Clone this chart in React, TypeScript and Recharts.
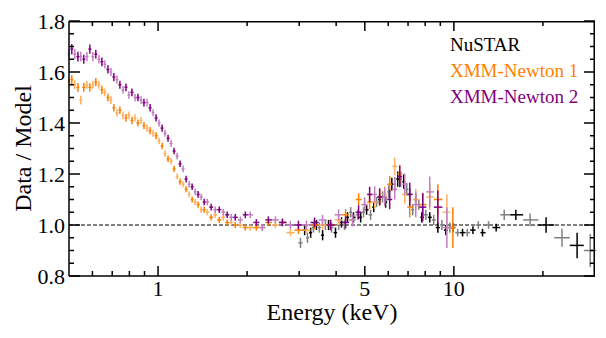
import React from 'react';
import { ScatterChart, Scatter, XAxis, YAxis, ErrorBar, ReferenceLine, CartesianGrid, Legend } from 'recharts';

// [energy keV, data/model ratio, 1-sigma error on ratio]
type Row = [number, number, number];

const nustar: Row[] = [
  [3.03, 0.93, 0.02], [3.13, 0.98, 0.02], [3.2, 0.95, 0.02], [3.28, 0.97, 0.02], [3.35, 0.99, 0.02],
  [3.43, 1.0, 0.02], [3.51, 0.99, 0.02], [3.6, 0.96, 0.02], [3.68, 1.0, 0.02], [3.77, 1.0, 0.02],
  [3.86, 0.99, 0.02], [3.98, 0.97, 0.02], [4.08, 1.0, 0.02], [4.17, 1.01, 0.02], [4.27, 1.0, 0.02],
  [4.37, 1.03, 0.02], [4.48, 1.05, 0.02], [4.58, 1.03, 0.02], [4.73, 1.04, 0.02], [4.84, 1.03, 0.02],
  [4.95, 1.05, 0.02], [5.07, 1.06, 0.02], [5.23, 1.04, 0.02], [5.36, 1.07, 0.02], [5.48, 1.09, 0.02],
  [5.61, 1.1, 0.02], [5.74, 1.11, 0.022], [5.88, 1.09, 0.022], [6.02, 1.13, 0.025], [6.17, 1.16, 0.025],
  [6.31, 1.16, 0.028], [6.46, 1.18, 0.03], [6.61, 1.18, 0.03], [6.77, 1.17, 0.028], [6.93, 1.14, 0.025],
  [7.09, 1.12, 0.025], [7.26, 1.06, 0.022], [7.43, 1.1, 0.022], [7.61, 1.08, 0.02], [7.79, 1.03, 0.02],
  [8.04, 1.04, 0.02], [8.29, 1.03, 0.02], [8.55, 1.02, 0.02], [8.83, 0.99, 0.02], [9.11, 1.0, 0.02],
  [9.4, 0.98, 0.02], [9.69, 0.99, 0.02], [9.92, 0.99, 0.018], [10.3, 0.97, 0.015], [10.7, 0.97, 0.015],
  [11.1, 0.97, 0.015], [11.6, 0.98, 0.015], [12.1, 1.0, 0.015], [12.5, 0.97, 0.015], [13.1, 1.0, 0.015],
  [13.9, 0.99, 0.015], [14.8, 1.04, 0.02], [16.2, 1.04, 0.02], [18.1, 1.02, 0.025], [20.5, 1.0, 0.03],
  [23.2, 0.95, 0.035], [26.1, 0.92, 0.05], [28.9, 0.9, 0.065],
];

const xmm1: Row[] = [
  [0.5, 1.56, 0.018], [0.511, 1.57, 0.018], [0.523, 1.55, 0.017], [0.536, 1.54, 0.017], [0.548, 1.49, 0.017],
  [0.561, 1.54, 0.017], [0.575, 1.55, 0.016], [0.588, 1.54, 0.016], [0.602, 1.55, 0.016], [0.616, 1.56, 0.016],
  [0.631, 1.55, 0.016], [0.646, 1.53, 0.016], [0.661, 1.52, 0.015], [0.677, 1.5, 0.015], [0.693, 1.49, 0.015],
  [0.709, 1.46, 0.015], [0.726, 1.44, 0.015], [0.743, 1.45, 0.015], [0.761, 1.43, 0.015], [0.779, 1.42, 0.015],
  [0.797, 1.43, 0.015], [0.816, 1.41, 0.015], [0.836, 1.42, 0.014], [0.855, 1.4, 0.014], [0.876, 1.41, 0.014],
  [0.896, 1.39, 0.014], [0.918, 1.38, 0.014], [0.94, 1.37, 0.014], [0.962, 1.36, 0.014], [0.985, 1.35, 0.014],
  [1.008, 1.33, 0.013], [1.032, 1.31, 0.013], [1.056, 1.28, 0.013], [1.081, 1.26, 0.013], [1.107, 1.25, 0.013],
  [1.133, 1.22, 0.012], [1.16, 1.19, 0.012], [1.187, 1.17, 0.012], [1.215, 1.16, 0.012], [1.244, 1.14, 0.012],
  [1.274, 1.12, 0.012], [1.304, 1.1, 0.012], [1.335, 1.09, 0.012], [1.366, 1.08, 0.012], [1.399, 1.06, 0.012],
  [1.432, 1.06, 0.012], [1.466, 1.05, 0.012], [1.512, 1.03, 0.012], [1.56, 1.04, 0.012], [1.61, 1.02, 0.012],
  [1.661, 1.03, 0.012], [1.713, 1.01, 0.012], [1.768, 1.01, 0.012], [1.824, 1.0, 0.012], [1.897, 1.0, 0.012],
  [1.972, 0.99, 0.012], [2.05, 0.99, 0.012], [2.149, 0.99, 0.012], [2.252, 0.99, 0.012], [2.36, 1.01, 0.013],
  [2.492, 1.0, 0.013], [2.633, 1.01, 0.014], [2.802, 0.97, 0.014], [2.983, 0.98, 0.015], [3.175, 0.98, 0.016],
  [3.38, 1.0, 0.017], [3.597, 1.0, 0.018], [3.83, 1.0, 0.019], [4.076, 1.02, 0.02], [4.305, 1.04, 0.022],
  [4.546, 1.02, 0.022], [4.764, 1.1, 0.024], [4.992, 1.08, 0.026], [5.191, 1.09, 0.027], [5.398, 1.09, 0.028],
  [5.613, 1.11, 0.03], [5.837, 1.12, 0.032], [6.069, 1.16, 0.032], [6.31, 1.23, 0.034], [6.561, 1.2, 0.036],
  [6.823, 1.12, 0.036], [7.093, 1.07, 0.04], [7.433, 1.1, 0.042], [7.85, 1.08, 0.046], [8.29, 1.11, 0.05],
  [8.827, 1.1, 0.06], [9.469, 1.05, 0.07], [9.92, 0.99, 0.08],
];

const xmm2: Row[] = [
  [0.5, 1.67, 0.02], [0.511, 1.69, 0.02], [0.523, 1.67, 0.019], [0.536, 1.66, 0.019], [0.548, 1.66, 0.019],
  [0.561, 1.65, 0.018], [0.575, 1.66, 0.018], [0.588, 1.69, 0.018], [0.602, 1.66, 0.018], [0.616, 1.67, 0.017],
  [0.631, 1.65, 0.017], [0.646, 1.64, 0.017], [0.661, 1.63, 0.016], [0.677, 1.61, 0.016], [0.693, 1.6, 0.016],
  [0.709, 1.58, 0.016], [0.726, 1.57, 0.016], [0.743, 1.55, 0.016], [0.761, 1.53, 0.015], [0.779, 1.54, 0.015],
  [0.797, 1.51, 0.015], [0.816, 1.52, 0.015], [0.836, 1.5, 0.015], [0.855, 1.5, 0.015], [0.876, 1.49, 0.015],
  [0.896, 1.48, 0.015], [0.918, 1.48, 0.015], [0.94, 1.46, 0.015], [0.962, 1.44, 0.014], [0.985, 1.42, 0.014],
  [1.008, 1.4, 0.014], [1.032, 1.38, 0.014], [1.056, 1.36, 0.014], [1.081, 1.34, 0.014], [1.107, 1.32, 0.014],
  [1.133, 1.29, 0.013], [1.16, 1.27, 0.013], [1.187, 1.24, 0.013], [1.215, 1.22, 0.013], [1.244, 1.18, 0.013],
  [1.274, 1.16, 0.013], [1.304, 1.15, 0.013], [1.335, 1.13, 0.013], [1.366, 1.12, 0.013], [1.399, 1.11, 0.013],
  [1.432, 1.09, 0.013], [1.466, 1.09, 0.013], [1.512, 1.07, 0.013], [1.56, 1.06, 0.013], [1.61, 1.06, 0.013],
  [1.661, 1.05, 0.013], [1.713, 1.04, 0.013], [1.768, 1.03, 0.013], [1.824, 1.03, 0.013], [1.897, 1.02, 0.013],
  [1.972, 1.04, 0.013], [2.05, 1.04, 0.013], [2.149, 1.01, 0.013], [2.252, 0.99, 0.014], [2.36, 1.02, 0.014],
  [2.492, 1.02, 0.014], [2.633, 1.01, 0.015], [2.802, 1.0, 0.016], [2.983, 1.0, 0.017], [3.175, 1.0, 0.018],
  [3.38, 1.01, 0.019], [3.597, 1.02, 0.02], [3.83, 1.0, 0.021], [4.076, 1.04, 0.022], [4.305, 1.01, 0.024],
  [4.546, 1.02, 0.026], [4.764, 1.05, 0.027], [4.992, 1.08, 0.028], [5.191, 1.12, 0.03], [5.398, 1.12, 0.032],
  [5.613, 1.11, 0.034], [5.837, 1.11, 0.036], [6.069, 1.1, 0.038], [6.31, 1.14, 0.04], [6.561, 1.19, 0.042],
  [6.823, 1.16, 0.042], [7.093, 1.12, 0.046], [7.433, 1.08, 0.05], [7.85, 1.07, 0.055], [8.29, 1.13, 0.06],
  [8.827, 1.07, 0.065], [9.469, 0.99, 0.08],
];

const xMajorTicks = [1, 5, 10];
const xMinorTicks = [0.6, 0.7, 0.8, 0.9, 2, 3, 4, 6, 7, 8, 9, 20];
const yMajorTicks = [0.8, 1.0, 1.2, 1.4, 1.6, 1.8];
const yMinorTicks = [0.85, 0.9, 0.95, 1.05, 1.1, 1.15, 1.25, 1.3, 1.35, 1.45, 1.5, 1.55, 1.65, 1.7, 1.75];

const series = [
  { name: 'NuSTAR', rows: nustar, color: '#000000', light: '#808080' },
  { name: 'XMM-Newton 1', rows: xmm1, color: '#ff7f00', light: '#ffb060' },
  { name: 'XMM-Newton 2', rows: xmm2, color: '#800080', light: '#c080c0' },
];

const FONT = '"Liberation Serif", "Times New Roman", serif';
const xTicks = [...xMajorTicks, ...xMinorTicks].sort((a, b) => a - b);
const yTicks = [...yMajorTicks, ...yMinorTicks].sort((a, b) => a - b);

// layout
const W = 606;
const H = 338;
const margin = { top: 21, right: 11, bottom: 0, left: 0 };
const X_AXIS_H = 62;
const Y_AXIS_W = 69;
const PLOT_W = W - margin.left - margin.right - Y_AXIS_W;
const PLOT_H = H - margin.top - margin.bottom - X_AXIS_H;

// x error = half distance to neighbouring bins
function toPoints(rows: Row[]) {
  return rows.map(([e, r, dy], i) => {
    const prev = i > 0 ? rows[i - 1][0] : e - (rows[i + 1][0] - e);
    const next = i < rows.length - 1 ? rows[i + 1][0] : e + (e - rows[i - 1][0]);
    return { x: e, y: r, xe: [(e - prev) / 2, (next - e) / 2], ye: dy };
  });
}

const noShape = () => <g />;

// bottom tick + mirrored tick on the top frame
const BottomTick = (p: any) => {
  const v = p.payload.value;
  const len = xMajorTicks.includes(v) ? 10 : 5;
  const px = Number(p.x);
  const py = Number(p.y);
  const top = py - PLOT_H;
  return (
    <g>
      <path d={`M${px},${py}V${py - len}M${px},${top}V${top + len}`} stroke="#000" strokeWidth={1.5} fill="none" />
      {len === 10 && (
        <text x={px} y={py + 20} textAnchor="middle" fontSize={22} fontFamily={FONT} fill="#000">{v}</text>
      )}
    </g>
  );
};

// left tick + mirrored tick on the right frame
const LeftTick = (p: any) => {
  const v = p.payload.value;
  const major = yMajorTicks.includes(v);
  const len = major ? 11 : 5;
  const px = Number(p.x);
  const py = Number(p.y);
  const right = px + PLOT_W;
  return (
    <g>
      <path d={`M${px},${py}H${px + len}M${right},${py}H${right - len}`} stroke="#000" strokeWidth={1.5} fill="none" />
      {major && (
        <text x={px - 4} y={py + 8} textAnchor="end" fontSize={22} fontFamily={FONT} fill="#000">{v.toFixed(1)}</text>
      )}
    </g>
  );
};

const XLabel = (p: any) => {
  const { x, y, width } = p.viewBox;
  return (
    <text x={x + width / 2} y={y + 44} textAnchor="middle" fontSize={24} fontFamily={FONT} fill="#000">Energy (keV)</text>
  );
};

const YLabel = (p: any) => {
  const { y, height } = p.viewBox;
  const cx = 31;
  const cy = y + height / 2;
  return (
    <text x={cx} y={cy} transform={`rotate(-90, ${cx}, ${cy})`} textAnchor="middle" fontSize={24} fontFamily={FONT} fill="#000">
      Data / Model
    </text>
  );
};

const LegendBox = () => (
  <div style={{ fontFamily: FONT, fontSize: 19, lineHeight: '26px' }}>
    {series.map((s) => (
      <div key={s.name} style={{ color: s.color }}>{s.name}</div>
    ))}
  </div>
);

const axisLine = { stroke: '#000', strokeWidth: 1.5 };

export default function App() {
  return (
    <div style={{ position: 'absolute', left: 0, top: 0, background: '#fff' }}>
      <ScatterChart width={W} height={H} margin={margin}>
        {/* plot frame: grid lines only at the domain edges */}
        <CartesianGrid
          xAxisId="x" yAxisId="y"
          horizontalPoints={[margin.top + 0.75]}
          verticalPoints={[W - margin.right - 0.75]}
          stroke="#000" strokeWidth={1.5} strokeDasharray="0"
        />
        <XAxis
          xAxisId="x" dataKey="x" type="number" scale="log" domain={[0.5, 30]} allowDataOverflow
          ticks={xTicks} interval={0} tickSize={0} tickMargin={0} tickLine={false} tick={BottomTick}
          axisLine={axisLine} height={X_AXIS_H} label={XLabel}
        />
        <YAxis
          yAxisId="y" dataKey="y" type="number" domain={[0.8, 1.8]} allowDataOverflow
          ticks={yTicks} interval={0} tickSize={0} tickMargin={0} tickLine={false} tick={LeftTick}
          axisLine={axisLine} width={Y_AXIS_W} label={YLabel}
        />
        <ReferenceLine xAxisId="x" yAxisId="y" y={1} stroke="#000" strokeWidth={1} strokeDasharray="4 2" />
        {series.flatMap((s) => {
          const pts = toPoints(s.rows);
          return [0, 1].map((k) => {
            const stroke = k === 0 ? s.light : s.color;
            return (
              <Scatter
                key={s.name + k}
                name={s.name}
                xAxisId="x"
                yAxisId="y"
                data={pts.filter((_, i) => i % 2 === k)}
                shape={noShape}
                isAnimationActive={false}
                legendType="none"
              >
                <ErrorBar dataKey="xe" direction="x" width={0} stroke={stroke} strokeWidth={1.5} isAnimationActive={false} />
                <ErrorBar dataKey="ye" direction="y" width={0} stroke={stroke} strokeWidth={1.5} isAnimationActive={false} />
              </Scatter>
            );
          });
        })}
        <Legend
          layout="horizontal"
          verticalAlign="middle"
          align="center"
          content={LegendBox}
          wrapperStyle={{ left: 450, top: 32, width: 150, height: 80 }}
        />
      </ScatterChart>
    </div>
  );
}
